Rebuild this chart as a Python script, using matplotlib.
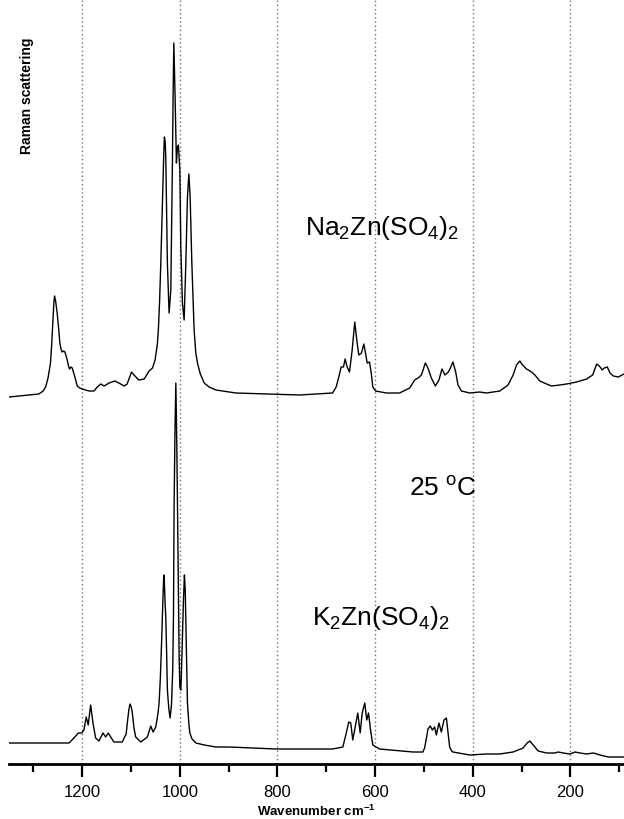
import matplotlib
matplotlib.use("Agg")
import matplotlib.pyplot as plt
from matplotlib.ticker import MultipleLocator

plt.rcParams['font.family'] = ['Liberation Sans', 'DejaVu Sans']
plt.rcParams['mathtext.default'] = 'regular'

# Na2Zn(SO4)2 spectrum (wavenumber cm-1, intensity arb. units)
na_wn = [1350, 1289, 1280, 1275, 1270, 1265, 1262.5, 1260, 1258, 1256.6, 1254.5, 1251.3,
         1248, 1245.8, 1243, 1241, 1238, 1235.5, 1233, 1230.8, 1228, 1225.9, 1223, 1220.5,
         1218, 1215, 1210.2, 1205, 1200, 1186, 1176, 1169, 1162, 1155, 1145, 1133, 1125, 1114,
         1108, 1099, 1094, 1084, 1073, 1063, 1056, 1050.7, 1046, 1044, 1041.5, 1039, 1036.5,
         1034.3, 1032.8, 1031.6, 1030, 1028.8, 1025.5, 1022, 1018.5, 1015.2, 1013.5, 1012.3,
         1009.7, 1007, 1004.9, 1002.9, 1000, 998, 994.7, 991.2, 987.7, 984.4, 981.5, 978.9,
         975.4, 972.5, 970.7, 967.5, 963.9, 958, 950, 940, 926, 885, 817, 755, 687, 679.7,
         674.4, 669.5, 664.8, 661.3, 657.2, 652.4, 646.9, 641.6, 637.5, 633.4, 627.8, 623.1,
         619.6, 616.1, 611.4, 607.9, 604.6, 599, 577, 550, 529, 519, 512, 505, 497, 491.7,
         484.7, 476.5, 469.1, 463, 456.8, 449.8, 445.7, 440.4, 434.8, 430.1, 423.1, 406,
         386, 372, 344.5, 327.5, 317.2, 310.2, 303.4, 297.9, 289.7, 279.4, 272.6, 262.4,
         248.6, 238.4, 221.3, 207.6, 187, 166.5, 154.2, 146, 140.6, 134.5, 130.4, 124.2,
         118.7, 111.9, 101.6, 90]
na_int = [367, 370, 373, 377, 386, 401, 420, 444, 462, 468, 463, 451,
          434, 421, 414, 412, 413, 412, 408, 404, 398, 395, 397, 396,
          392, 387, 378, 376, 375, 373, 373, 377, 380, 378, 381, 383, 381, 378,
          380, 392, 389, 384, 385, 393, 396, 404, 420, 434, 462, 501, 545,
          584, 612, 627, 622, 607, 501, 451, 474, 601, 680, 721,
          667, 601, 617, 619, 594, 517, 461, 444, 501, 567, 590, 567,
          501, 460, 434, 412, 401, 390, 381, 377, 374, 371, 370, 369, 371, 377,
          387, 397, 397, 405, 397, 392, 414, 442, 424, 409, 411, 420,
          411, 401, 402, 391, 377, 373, 371, 371, 376, 384, 386, 389, 401, 396,
          386, 378, 384, 395, 389, 392, 396, 402, 392, 379, 373, 371,
          372, 371, 373, 379, 389, 399, 403, 399, 395, 392, 389, 383,
          380, 378, 379, 380, 382, 385, 389, 400, 398, 394, 396, 397,
          391, 388, 387, 390]

# K2Zn(SO4)2 spectrum
k_wn = [1350, 1303, 1227, 1217, 1208, 1201, 1196.5, 1191.8, 1187.7, 1182.7, 1178, 1172.5,
        1165.7, 1157.5, 1152, 1146.6, 1141.7, 1135, 1118, 1110, 1107.6, 1104.5, 1102.1, 1099.5,
        1097.3, 1094, 1090.4, 1080, 1066.5, 1059.6, 1054.8, 1049.3, 1045, 1042.5, 1040, 1037,
        1035, 1032.9, 1031.5, 1030.2, 1028.8, 1027, 1025.5, 1022.5, 1019.9, 1017, 1014.5, 1013,
        1011.7, 1010, 1008.2, 1006.8, 1005.6, 1004, 1002.9, 1001.5, 1000, 998, 996.5, 994.7,
        992.5, 990.6, 989, 987.7, 986, 984.4, 981.5, 979.5, 975, 967, 950, 926, 899, 803, 687,
        666, 659, 653.9, 649.8, 645.7, 640.8, 635.4, 630.5, 626.4, 621.1, 617, 613.4, 609.3,
        604.6, 591, 522.5, 502, 498.5, 494, 491.7, 486.8, 482.7, 477.9, 474.5, 469.1, 464.2,
        458.8, 453.9, 450.6, 447.2, 443, 440.4, 406, 372, 344.5, 317.2, 296.7, 288.5, 282.9,
        276.1, 265.8, 248.6, 231.6, 224.8, 214.5, 200.8, 190.5, 180.3, 166.5, 152.9, 139.2,
        122.2, 105, 90]
k_int = [21, 21, 21, 26, 31, 31, 34, 47, 39, 59, 41, 26,
         23, 31, 27, 31, 27, 22, 22, 30, 41, 54, 60, 57,
         51, 36, 27, 22, 27, 38, 32, 37, 50, 61, 85, 127,
         160, 189, 180, 161, 147, 110, 74, 55, 46, 60, 95, 150,
         261, 330, 381, 340, 294, 220, 161, 110, 77, 74, 95, 127,
         165, 189, 175, 144, 100, 61, 40, 31, 25, 21, 19, 17, 17, 15, 15,
         17, 31, 42, 41, 24, 37, 51, 31, 51, 61, 44, 51, 34,
         19, 15, 12, 12, 16, 28, 35, 38, 34, 37, 29, 41, 32,
         44, 46, 32, 17, 13, 12, 9, 10, 10, 12, 16, 21, 23,
         19, 13, 11, 11, 12, 11, 10, 12, 11, 10, 11, 9,
         7, 7, 7]

grid_lines = [1200, 1000, 800, 600, 400, 200]

fig = plt.figure(figsize=(6.24, 8.19), dpi=100)
ax = fig.add_axes([9/624, 55/819, 615/624, 764/819])

for g in grid_lines:
    ax.axvline(g, color='#707070', linestyle=(0, (1, 2)), linewidth=1.0, zorder=1)

ax.plot(na_wn, na_int, color='black', linewidth=1.0, zorder=3)
ax.plot(k_wn, k_int, color='black', linewidth=1.0, zorder=3)

ax.set_xlim(1350, 90)
ax.set_ylim(0, 764)

for s in ['left', 'right', 'top']:
    ax.spines[s].set_visible(False)
ax.spines['bottom'].set_linewidth(2.0)
ax.set_yticks([])
ax.xaxis.set_major_locator(MultipleLocator(200))
ax.xaxis.set_minor_locator(MultipleLocator(100))
ax.tick_params(axis='x', which='major', direction='out', length=9, width=1.6,
               labelsize=12, pad=6)
ax.tick_params(axis='x', which='minor', direction='out', length=5.5, width=1.6)
ax.set_xlabel('Wavenumber cm$^{-1}$', fontsize=9.5, fontweight='bold', labelpad=3)

ax.text(743, 529, '$\\mathregular{Na_2Zn(SO_4)_2}$', fontsize=19, ha='left', va='baseline')
ax.text(531, 268, '25 $^{o}$C', fontsize=19, ha='left', va='baseline')
ax.text(729, 139, '$\\mathregular{K_2Zn(SO_4)_2}$', fontsize=19, ha='left', va='baseline')

fig.text(27/624, 1 - 96/819, 'Raman scattering', rotation=90, fontsize=10,
         fontweight='bold', ha='center', va='center')

fig.savefig('out.png', dpi=100)
